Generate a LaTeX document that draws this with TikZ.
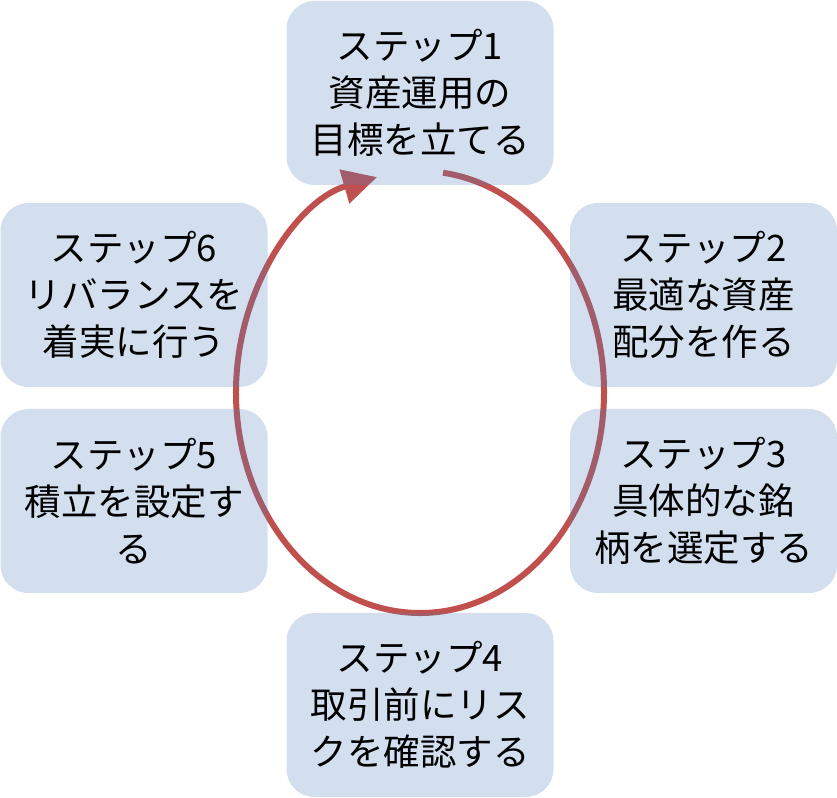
\documentclass[tikz,border=0pt]{standalone}
\usepackage{fontspec}
\setmainfont{Noto Sans CJK JP}
\usepackage{tikz}
\usetikzlibrary{arrows.meta,positioning}
\definecolor{stepblue}{RGB}{79,129,189}
\definecolor{loopred}{RGB}{192,80,77}
\begin{document}
\begin{tikzpicture}[x=1pt,y=1pt,
stepbox/.style={fill=stepblue,fill opacity=0.25,text opacity=1,rounded corners=28pt,
  minimum width=267pt,minimum height=184pt,inner sep=0pt,align=center,
  font=\fontsize{36.5}{47}\selectfont},
cycleloop/.style={draw=loopred,line width=6pt,-{Triangle[length=34pt,width=34pt]}}]
\useasboundingbox (0,0) rectangle (837,797);
\coordinate (c) at (420,405);
\draw[cycleloop] (c) ++(82.8:184 and 221) arc[start angle=82.8,end angle=-256.5,x radius=184,y radius=221];
\node[stepbox] (s1) at (420,704) {ステップ1\\資産運用の\\目標を立てる};
\node[stepbox] (s2) at (703.5,502) {ステップ2\\最適な資産\\配分を作る};
\node[stepbox] (s3) at (703.5,296) {ステップ3\\具体的な銘\\柄を選定する};
\node[stepbox] (s4) at (420,92) {ステップ4\\取引前にリス\\クを確認する};
\node[stepbox] (s5) at (134,296) {ステップ5\\積立を設定す\\る};
\node[stepbox] (s6) at (134,502) {ステップ6\\リバランスを\\着実に行う};
\end{tikzpicture}
\end{document}
